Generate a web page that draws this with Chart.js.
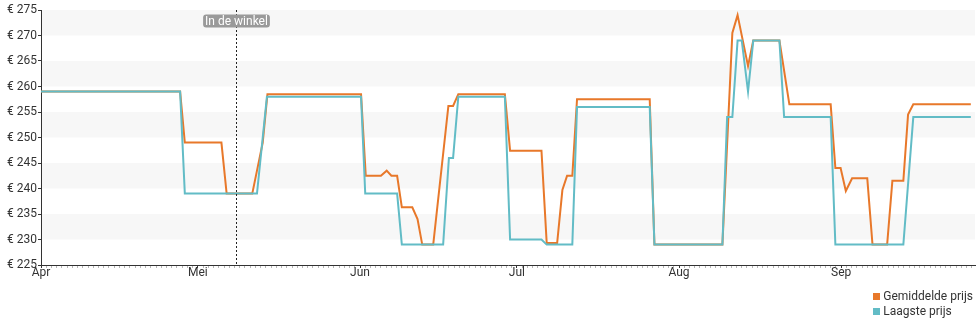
<!DOCTYPE html>
<html>
<head>
<meta charset="utf-8">
<script src="https://cdn.jsdelivr.net/npm/chart.js@4/dist/chart.umd.min.js"></script>
<style>
  html, body { margin: 0; padding: 0; background: #fff; }
  #wrap { position: relative; width: 980px; height: 325px; }
  #priceChart { position: absolute; left: 0; top: 0; }
  #legend {
    position: absolute; right: 7px; top: 289px;
    font: 12px Roboto, sans-serif; color: #333; line-height: 15px;
  }
  #legend .item { display: flex; align-items: center; }
  #legend .box { width: 7px; height: 7px; margin-right: 3px; }
</style>
</head>
<body>
<div id="wrap">
  <canvas id="priceChart" width="980" height="325"></canvas>
  <div id="legend"></div>
</div>
<script>
// ── Data (x = days since 1 April) ─────────────────────────────────────────────
const monthStarts = [0, 30, 61, 91, 122, 153];
const monthLabels = ["Apr", "Mei", "Jun", "Jul", "Aug", "Sep"];
const lastDay     = 178.6;
const storeDay    = 37.3;
const storeLabel  = "In de winkel";

const avgLabel  = "Gemiddelde prijs";
const avgDays   = [0, 26.6, 27.5, 34.5, 35.5, 40.4, 42.4, 43.3, 61.2, 62.1, 65, 66.1, 67, 68.1, 69, 71, 72, 72.9,
                   75, 77.9, 78.8, 79.8, 88.7, 89.7, 95.7, 96.7, 98.7, 99.7, 100.6, 101.6, 102.5, 116.4, 117.3,
                   130.3, 132.2, 133.2, 135.2, 136.2, 141.2, 143.1, 151, 151.9, 152.9, 153.9, 155.1, 158, 159,
                   161.8, 162.8, 164.9, 165.8, 166.8, 177.8];
const avgPrices = [259, 259, 249, 249, 239, 239, 249, 258.5, 258.5, 242.5, 242.5, 243.5, 242.5, 242.5, 236.3, 236.3, 234, 229,
                   229, 256.2, 256.2, 258.5, 258.5, 247.4, 247.4, 229.3, 229.3, 239.7, 242.5, 242.5, 257.5, 257.5, 229,
                   229, 270.5, 274, 264, 269, 269, 256.5, 256.5, 244, 244, 239.5, 242, 242, 229,
                   229, 241.5, 241.5, 254.5, 256.5, 256.5];

const lowLabel  = "Laagste prijs";
const lowDays   = [0, 26.6, 27.5, 41.3, 43.2, 61.2, 62, 68.1, 69, 76.9, 78, 78.8, 79.8, 88.7, 89.7, 95.7, 96.7,
                   101.6, 102.5, 116.4, 117.3, 130.3, 131.2, 132.2, 133.2, 134, 135.2, 136.2, 141.2, 142.1,
                   151, 151.9, 164.9, 166.8, 177.8];
const lowPrices = [259, 259, 239, 239, 258, 258, 239, 239, 229, 229, 246, 246, 258, 258, 230, 230, 229,
                   229, 256, 256, 229, 229, 254, 254, 269, 269, 259, 269, 269, 254,
                   254, 229, 229, 254, 254];

const AVG_COLOR = "#e8782a";
const LOW_COLOR = "#62bcc6";
const INK       = "#333";

// ── Plugins ───────────────────────────────────────────────────────────────────
// light stripes behind every other 5-euro band
const bandPlugin = {
  id: "bands",
  beforeDatasetsDraw(chart) {
    const { ctx, chartArea: a, scales: { y } } = chart;
    ctx.save();
    ctx.fillStyle = "#f7f7f7";
    for (let v = 230; v < y.max; v += 10) {
      const top = y.getPixelForValue(v + 5);
      const bot = y.getPixelForValue(v);
      ctx.fillRect(a.left + 1, top, a.right - a.left - 1, bot - top);
    }
    ctx.restore();
  },
};

// dotted marker with a small grey tag
const storePlugin = {
  id: "storeMarker",
  afterDatasetsDraw(chart) {
    const { ctx, chartArea: a, scales: { x } } = chart;
    const px = Math.round(x.getPixelForValue(storeDay)) + 0.5;
    ctx.save();
    ctx.strokeStyle = "#222";
    ctx.lineWidth = 1;
    ctx.setLineDash([2, 2]);
    ctx.beginPath();
    ctx.moveTo(px, a.top);
    ctx.lineTo(px, a.bottom);
    ctx.stroke();
    ctx.setLineDash([]);

    ctx.font = "12px Roboto, sans-serif";
    const w = ctx.measureText(storeLabel).width + 4;
    const h = 13;
    const cy = a.top + 11;
    ctx.fillStyle = "#9a9a9a";
    ctx.beginPath();
    ctx.roundRect(px - w / 2, cy - h / 2, w, h, 3);
    ctx.fill();
    ctx.fillStyle = "#fff";
    ctx.textAlign = "center";
    ctx.textBaseline = "middle";
    ctx.fillText(storeLabel, px, cy + 0.5);
    ctx.restore();
  },
};

// ── Chart ─────────────────────────────────────────────────────────────────────
const toPoints = (days, prices) => days.map((d, i) => ({ x: d, y: prices[i] }));
const allDays = Array.from({ length: Math.floor(lastDay) + 1 }, (_, i) => i);

new Chart(document.getElementById("priceChart"), {
  type: "line",
  data: {
    datasets: [
      { label: avgLabel, data: toPoints(avgDays, avgPrices), borderColor: AVG_COLOR, order: 2 },
      { label: lowLabel, data: toPoints(lowDays, lowPrices), borderColor: LOW_COLOR, order: 1 },
    ],
  },
  options: {
    responsive: false,
    animation: false,
    layout: { padding: { top: 10, right: 5, left: 0, bottom: 0 } },
    elements: {
      line: { borderWidth: 2, tension: 0, fill: false },
      point: { radius: 0, hoverRadius: 0 },
    },
    plugins: { legend: { display: false }, tooltip: { enabled: false } },
    scales: {
      x: {
        type: "linear",
        min: 0,
        max: lastDay,
        afterBuildTicks: (scale) => { scale.ticks = allDays.map((v) => ({ value: v })); },
        afterFit: (scale) => { scale.height = 60; },
        border: { display: true, color: INK, width: 1 },
        grid: {
          drawOnChartArea: false,
          drawTicks: true,
          tickLength: 3,
          color: (ctx) => (ctx.tick && monthStarts.includes(ctx.tick.value) ? INK : "#b5b5b5"),
        },
        ticks: {
          autoSkip: false,
          maxRotation: 0,
          padding: -2,
          color: INK,
          font: { family: "Roboto", size: 12 },
          callback: (v) => {
            const i = monthStarts.indexOf(v);
            return i >= 0 ? monthLabels[i] : "";
          },
        },
      },
      y: {
        min: 225,
        max: 275,
        afterFit: (scale) => { scale.width = 41; },
        border: { display: true, color: INK, width: 1 },
        grid: { drawOnChartArea: false, drawTicks: true, tickLength: 3, color: INK },
        ticks: {
          stepSize: 5,
          padding: 1,
          color: INK,
          font: { family: "Roboto", size: 12 },
          callback: (v) => "€ " + v,
        },
      },
    },
  },
  plugins: [bandPlugin, storePlugin],
});

// ── Legend ────────────────────────────────────────────────────────────────────
const legend = document.getElementById("legend");
[[avgLabel, AVG_COLOR], [lowLabel, LOW_COLOR]].forEach(([label, color]) => {
  legend.insertAdjacentHTML("beforeend",
    `<div class="item"><span class="box" style="background:${color}"></span>${label}</div>`);
});
</script>
</body>
</html>
